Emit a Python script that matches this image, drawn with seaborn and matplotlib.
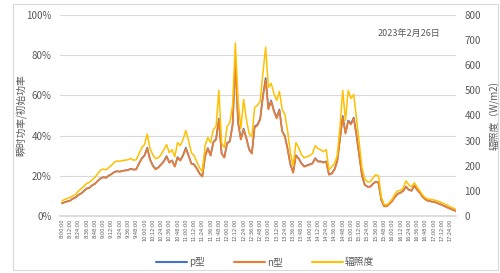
import numpy as np
import pandas as pd
import matplotlib
matplotlib.use("Agg")
import matplotlib.pyplot as plt
from matplotlib.patches import Rectangle
from matplotlib.lines import Line2D
import seaborn as sns

# time axis: 8:00 to 17:32 every 4 minutes
start_minute = 480
step_minutes = 4

n_type = [6.3, 6.8, 7.2, 7.6, 8.6, 9.2, 10.4, 11.2, 12.4, 13.6, 14.0, 15.2, 16.0, 17.4, 18.6, 19.2, 19.0, 20.0, 20.8, 21.8, 22.2, 22.0, 22.4, 22.6, 22.8, 23.4, 23.0, 23.2,
          26.0, 28.5, 30.0, 33.5, 28.0, 25.0, 23.2, 24.0, 25.5, 27.0, 29.5, 26.5, 27.5, 24.5, 29.0, 27.5, 30.0, 33.5, 30.0, 26.0, 25.5, 23.5, 21.0, 19.6,
          29.5, 33.5, 30.0, 36.5, 38.0, 47.8, 31.0, 29.0, 36.0, 37.0, 45.0, 76.0, 46.0, 38.0, 43.0, 38.5, 33.0, 31.0, 44.0, 45.0, 47.8,
          59.0, 67.5, 53.0, 57.0, 52.0, 48.5, 52.5, 42.0, 39.5, 33.0, 25.5, 21.5, 30.0, 28.5, 26.0, 24.5, 25.0, 25.5, 26.0, 28.5, 27.0, 27.0, 26.5, 27.0, 20.5,
          21.0, 23.0, 27.0, 38.0, 49.0, 41.0, 47.0, 45.5, 48.5, 40.0, 30.0, 20.0, 15.5, 14.5, 14.5, 16.0, 17.0, 16.5, 8.0, 4.8,
          4.8, 6.0, 7.5, 9.5, 11.0, 11.5, 12.5, 14.5, 13.0, 12.5, 15.0, 13.0, 11.5, 9.5, 8.2, 7.5, 7.2, 7.0, 6.6, 6.0, 5.5, 4.8, 4.2, 3.6, 3.0, 2.5]

p_type = [6.4, 6.9, 7.3, 7.7, 8.7, 9.3, 10.5, 11.3, 12.5, 13.7, 14.1, 15.3, 16.1, 17.5, 18.7, 19.3, 19.1, 20.1, 20.9, 21.9, 22.3, 22.1, 22.5, 22.7, 22.9, 23.5, 23.1, 23.3,
          26.2, 28.7, 30.2, 34.0, 28.2, 25.2, 23.4, 24.2, 25.7, 27.2, 29.8, 26.7, 27.7, 24.7, 29.3, 27.7, 30.3, 34.0, 30.2, 26.2, 25.7, 23.7, 21.2, 19.8,
          29.8, 33.8, 30.2, 36.8, 38.3, 48.5, 31.2, 29.2, 36.3, 37.3, 45.5, 77.0, 46.5, 38.3, 43.5, 38.8, 33.2, 31.2, 44.5, 45.5, 48.3,
          59.7, 68.7, 53.5, 57.5, 52.5, 49.0, 53.0, 42.3, 39.8, 33.2, 25.7, 21.7, 30.3, 28.7, 26.2, 24.7, 25.2, 25.7, 26.2, 28.8, 27.2, 27.2, 26.7, 27.2, 20.7,
          21.2, 23.2, 27.3, 38.5, 49.8, 41.3, 47.5, 46.0, 49.0, 40.3, 30.2, 20.2, 15.6, 14.6, 14.6, 16.1, 17.1, 16.6, 8.1, 4.9,
          4.9, 6.1, 7.6, 9.6, 11.1, 11.6, 12.6, 14.7, 13.1, 12.6, 15.2, 13.1, 11.6, 9.6, 8.3, 7.6, 7.3, 7.1, 6.7, 6.1, 5.6, 4.9, 4.3, 3.7, 3.1, 2.6]

irradiance = [60, 66, 70, 74, 80, 86, 99, 109, 118, 130, 134, 144, 154, 168, 182, 187, 184, 192, 202, 214, 219, 218, 221, 222, 224, 229, 222, 224,
              248, 272, 284, 326, 268, 244, 228, 232, 244, 264, 284, 252, 264, 236, 292, 280, 304, 340, 300, 252, 240, 216, 192, 176,
              280, 312, 292, 344, 356, 500, 292, 272, 356, 372, 440, 688, 456, 348, 464, 384, 328, 316, 432, 440, 456,
              568, 672, 512, 528, 488, 460, 496, 424, 404, 336, 252, 200, 292, 272, 244, 232, 236, 240, 248, 280, 268, 264, 256, 264, 184,
              196, 208, 240, 352, 500, 380, 500, 468, 484, 388, 288, 192, 148, 136, 136, 152, 164, 160, 76, 46,
              44, 54, 68, 88, 100, 102, 112, 140, 124, 116, 132, 116, 100, 84, 72, 68, 66, 64, 61, 58, 53, 48, 43, 37, 32, 27]

series_names = ["p型", "n型", "辐照度"]
left_ticks = [0, 20, 40, 60, 80, 100]
right_ticks = [0, 100, 200, 300, 400, 500, 600, 700, 800]
date_text = "2023年2月26日"

npts = len(n_type)
idx = np.arange(npts)
minutes = start_minute + step_minutes * idx
time_labels = [f"{m // 60}:{m % 60:02d}:00" for m in minutes]

df = pd.DataFrame({"i": idx, "p": np.array(p_type) / 100, "n": np.array(n_type) / 100,
                   "irr": irradiance, "time": time_labels})

sns.set_theme(style="white")
plt.rcParams['font.family'] = ['Noto Sans CJK SC', 'DejaVu Sans']

fig = plt.figure(figsize=(5.0, 2.73), dpi=100)
fig.patches.append(Rectangle((0.026, 0.011), 0.97, 0.974, transform=fig.transFigure,
                             fill=False, edgecolor="#D9D9D9", linewidth=0.8))
ax = fig.add_axes([0.12, 0.2088, 0.792, 0.7363])
ax2 = ax.twinx()

c_p, c_n, c_i = "#4472C4", "#ED7D31", "#FFC000"
sns.lineplot(data=df, x="i", y="p", ax=ax, color=c_p, linewidth=1.2)
sns.lineplot(data=df, x="i", y="n", ax=ax, color=c_n, linewidth=1.2)
sns.lineplot(data=df, x="i", y="irr", ax=ax2, color=c_i, linewidth=1.1)

ax.set_xlim(-0.7, npts - 0.85)
ax.set_ylim(0, 1.0)
ax2.set_ylim(0, 800)

ax.set_yticks([v / 100 for v in left_ticks])
ax.set_yticklabels([f"{v}%" for v in left_ticks], fontsize=7, color="#595959")
ax2.set_yticks(right_ticks)
ax2.set_yticklabels([str(v) for v in right_ticks], fontsize=7, color="#595959")

tick_pos = idx[::3]
ax.set_xticks(tick_pos)
ax.set_xticklabels([time_labels[i] for i in tick_pos], rotation=90, fontsize=3.6, color="#595959",
                   family=['DejaVu Sans'])
ax.tick_params(axis="x", length=0, pad=2)
ax.tick_params(axis="y", length=0, pad=6)
ax2.tick_params(axis="y", length=0, pad=6)

ax.grid(axis="y", color="#D9D9D9", linewidth=0.8)
ax.set_axisbelow(True)
for a in (ax, ax2):
    for s in a.spines.values():
        s.set_visible(False)
ax.spines["bottom"].set_visible(True)
ax.spines["bottom"].set_color("#D9D9D9")

ax.set_xlabel("")
ax.set_ylabel("瞬时功率/初始功率", fontsize=7, color="#595959")
ax.yaxis.set_label_coords(-0.085, 0.5)
ax2.set_ylabel("辐照度（W/m2)", fontsize=7, color="#595959")
ax2.yaxis.set_label_coords(1.085, 0.5)

ax.text(0.88, 0.91, date_text, transform=ax.transAxes, ha="center", va="center",
        fontsize=6.5, color="#595959")

handles = [Line2D([], [], color=c_p, lw=1.5), Line2D([], [], color=c_n, lw=1.5),
           Line2D([], [], color=c_i, lw=1.5)]
fig.legend(handles, series_names, loc="center", bbox_to_anchor=(0.53, 0.04), ncol=3,
           frameon=False, fontsize=7, handlelength=3.2, columnspacing=3.0,
           labelcolor="#595959", handletextpad=0.2)

fig.savefig("out.png", dpi=100)
